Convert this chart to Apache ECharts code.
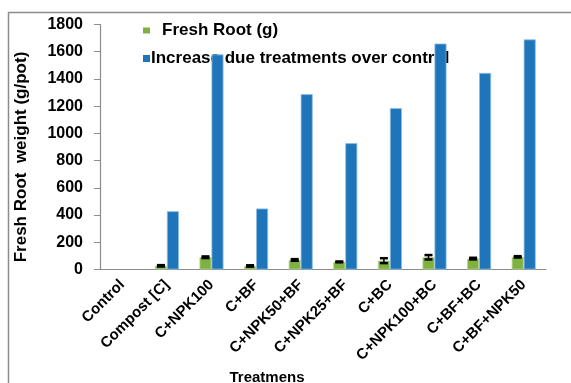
<!DOCTYPE html>
<html>
<head>
<meta charset="utf-8">
<script src="https://cdn.jsdelivr.net/npm/echarts@6/dist/echarts.min.js"></script>
<style>
  html, body { margin: 0; padding: 0; background: #fff; }
  #chart { width: 571px; height: 383px; }
</style>
</head>
<body>
<div id="chart"></div>
<script>
// 数据
const treatments = ["Control", "Compost [C]", "C+NPK100", "C+BF", "C+NPK50+BF", "C+NPK25+BF", "C+BC", "C+NPK100+BC", "C+BF+BC", "C+BF+NPK50"];
const freshRoot = [0, 27, 90, 26, 70, 56, 65, 90, 80, 93];
const freshRootErr = [0, 5, 6, 5, 6, 3, 18, 16, 6, 5];
const increase = [0, 428, 1580, 448, 1288, 928, 1185, 1660, 1444, 1690];
const yTicks = { min: 0, max: 1800, interval: 200 };

const FONT = "'Liberation Sans', Arial, sans-serif";
const BAR_W = 12;
const chart = echarts.init(document.getElementById("chart"));

// 0 值不画边框
const barData = (arr) => arr.map(v => v === 0 ? { value: 0, itemStyle: { borderWidth: 0 } } : v);

// 误差线：画在绿色柱中心（偏左半个柱宽）
function renderErr(params, api) {
  const i = api.value(0), v = api.value(1), e = api.value(2);
  if (!v) return null;
  const top = api.coord([i, v + e]), bot = api.coord([i, v - e]);
  const x = top[0] - BAR_W / 2, cap = 4;
  return {
    type: "group",
    children: [
      { type: "line", shape: { x1: x, y1: top[1], x2: x, y2: bot[1] }, style: { stroke: "#000", lineWidth: 1.5 } },
      { type: "line", shape: { x1: x - cap, y1: top[1], x2: x + cap, y2: top[1] }, style: { stroke: "#000", lineWidth: 2.5 } },
      { type: "line", shape: { x1: x - cap, y1: bot[1], x2: x + cap, y2: bot[1] }, style: { stroke: "#000", lineWidth: 2.5 } },
    ],
  };
}

chart.setOption({
  animation: false,
  backgroundColor: "#fff",
  textStyle: { fontFamily: FONT },
  graphic: [{
    type: "rect", left: 6, top: 10, z: -1,
    shape: { width: 620, height: 420 },
    style: { fill: "none", stroke: "#8c8c8c", lineWidth: 1.5 },
  }],
  grid: { left: 100, right: 25, top: 24.5, bottom: 113.5, outerBoundsMode: "none", containLabel: false },
  legend: [
    {
      data: ["Fresh Root (g)"], left: 143, top: 22, z: 1, padding: 0,
      itemWidth: 7, itemHeight: 6, icon: "rect", itemStyle: { borderWidth: 0 },
      textStyle: { fontFamily: FONT, fontSize: 17, fontWeight: "bold", color: "#000", padding: [0, 0, 0, 7] },
    },
    {
      data: ["Increase due treatments over control"], left: 143, top: 50, z: 1, padding: 0,
      itemWidth: 7, itemHeight: 7, icon: "rect", itemStyle: { borderWidth: 0 },
      textStyle: { fontFamily: FONT, fontSize: 17, fontWeight: "bold", color: "#000", padding: [0, 0, 0, -4] },
    },
  ],
  xAxis: {
    type: "category",
    data: treatments,
    name: "Treatmens",
    nameLocation: "middle",
    nameGap: 99,
    nameTextStyle: { fontFamily: FONT, fontSize: 15, fontWeight: "bold", color: "#000", padding: [0, 112, 0, 0] },
    axisLine: { lineStyle: { color: "#8c8c8c", width: 1.2 } },
    axisTick: { length: 6, lineStyle: { color: "#8c8c8c" } },
    axisLabel: { rotate: 45, fontFamily: FONT, fontSize: 15, fontWeight: "bold", color: "#000", margin: 13, interval: 0 },
  },
  yAxis: {
    type: "value",
    min: yTicks.min, max: yTicks.max, interval: yTicks.interval,
    name: "Fresh Root  weight (g/pot)",
    nameLocation: "middle",
    nameGap: 70,
    nameTextStyle: { fontFamily: FONT, fontSize: 17, fontWeight: "bold", color: "#000", padding: [0, 20, 0, 0] },
    axisLine: { show: true, lineStyle: { color: "#8c8c8c", width: 1.2 } },
    axisTick: { show: true, length: 6, lineStyle: { color: "#8c8c8c" } },
    splitLine: { show: false },
    axisLabel: { fontFamily: FONT, fontSize: 16, fontWeight: "bold", color: "#000", margin: 17, formatter: (v) => String(v) },
  },
  series: [
    {
      name: "Fresh Root (g)", type: "bar", data: barData(freshRoot), barWidth: BAR_W, barGap: "0%", z: 2,
      itemStyle: { color: "#7fb140", borderColor: "#b5d38f", borderWidth: 0.8 },
    },
    {
      name: "Increase due treatments over control", type: "bar", data: barData(increase), barWidth: BAR_W, z: 2,
      itemStyle: { color: "#1f75b9", borderColor: "#8cbbe3", borderWidth: 0.8 },
    },
    {
      type: "custom", renderItem: renderErr, z: 3,
      data: freshRoot.map((v, i) => [i, v, freshRootErr[i]]),
    },
  ],
});
</script>
</body>
</html>
